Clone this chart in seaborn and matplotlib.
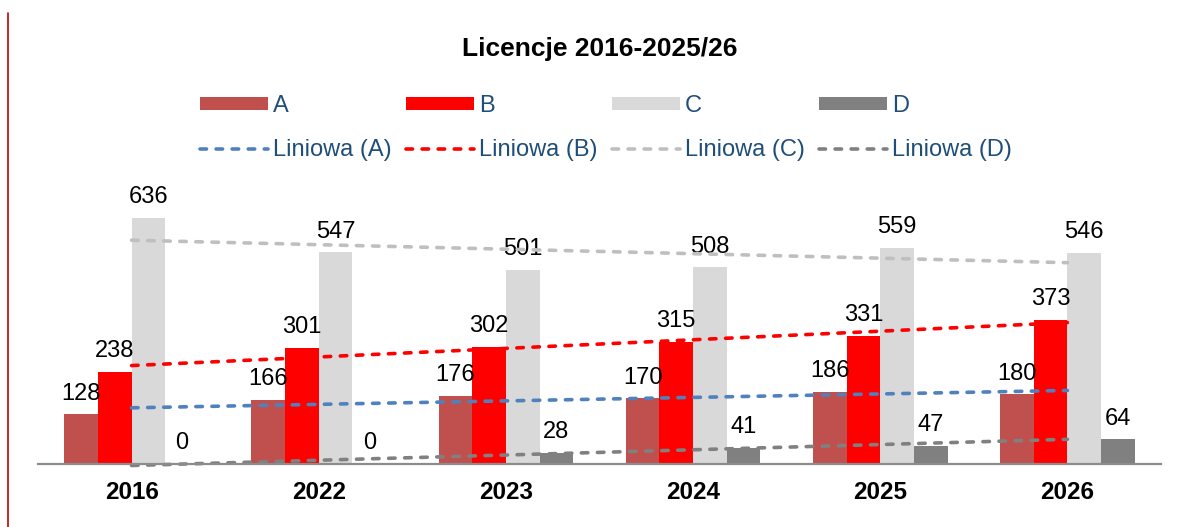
import numpy as np
import pandas as pd
import matplotlib
matplotlib.use("Agg")
import matplotlib.pyplot as plt
import seaborn as sns
from matplotlib.lines import Line2D
from matplotlib.patches import Patch

years = ["2016", "2022", "2023", "2024", "2025", "2026"]
series = ["A", "B", "C", "D"]
vals_a = [128, 166, 176, 170, 186, 180]
vals_b = [238, 301, 302, 315, 331, 373]
vals_c = [636, 547, 501, 508, 559, 546]
vals_d = [0, 0, 28, 41, 47, 64]

bar_colors = ["#C0504D", "#FF0000", "#D9D9D9", "#808080"]
trend_colors = ["#4F81BD", "#FF0000", "#BFBFBF", "#808080"]

sns.set_style("white")
plt.rcParams["font.family"] = ["Liberation Sans", "DejaVu Sans"]
plt.rcParams["text.color"] = "black"
plt.rcParams["xtick.color"] = "black"

all_vals = [vals_a, vals_b, vals_c, vals_d]
df = pd.DataFrame({
    "year": years * 4,
    "series": [s for s in series for _ in years],
    "value": vals_a + vals_b + vals_c + vals_d,
})

W, H = 1178, 527
fig = plt.figure(figsize=(W / 100, H / 100), dpi=100)
ax = fig.add_axes([38 / W, 1 - 464 / H, (1161 - 38) / W, (464 - 170) / H])

sns.barplot(data=df, x="year", y="value", hue="series", palette=bar_colors,
            width=0.72, linewidth=0, saturation=1, ax=ax, zorder=2, legend=False)

for cont in ax.containers:
    ax.bar_label(cont, padding=7, fontsize=17, color="black", zorder=3)

# linear trend per series
idx = np.arange(len(years))
trend_lines = []
for s, vals, col in zip(series, all_vals, trend_colors):
    sns.regplot(x=idx, y=np.array(vals), scatter=False, ci=None, ax=ax,
                truncate=True,
                line_kws=dict(color=col, lw=2.6, ls=(0, (1.8, 2.65)),
                              dash_capstyle="round", zorder=4, clip_on=False))
    trend_lines.append(ax.lines[-1])

ax.set_xlim(-0.5, len(years) - 0.5)
ax.set_ylim(0, 760)
ax.set_xlabel("")
ax.set_ylabel("")
ax.set_yticks([])
ax.set_xticks(idx)
ax.set_xticklabels(years, fontsize=17.5, fontweight="bold", color="black")
ax.tick_params(axis="x", length=0, pad=12)
for sp in ["top", "right", "left"]:
    ax.spines[sp].set_visible(False)
ax.spines["bottom"].set_color("#8C8C8C")
ax.spines["bottom"].set_linewidth(1.6)
ax.spines["bottom"].set_zorder(5)

order_h, order_l = [], []
for s, bc, ln in zip(series, bar_colors, trend_lines):
    order_h += [Patch(facecolor=bc, edgecolor="none"), ln]
    order_l += [s, f"Liniowa ({s})"]
leg = fig.legend(order_h, order_l, ncol=4, loc="center",
                 bbox_to_anchor=(606 / W, 1 - 128 / H),
                 frameon=False, handlelength=2.88, handleheight=0.52,
                 handletextpad=0.21, columnspacing=0.6, labelspacing=0.95,
                 prop={"size": 17})
for t in leg.get_texts():
    t.set_color("#1F4E79")

fig.text(599.5 / W, 1 - 49 / H, "Licencje 2016-2025/26", ha="center", va="center",
         fontsize=19, fontweight="bold", color="black")

fig.add_artist(Line2D([8 / W, 8 / W], [0, 1 - 13 / H], color="#C00000", lw=1.2,
                      transform=fig.transFigure))

fig.savefig("out.png", dpi=100)
